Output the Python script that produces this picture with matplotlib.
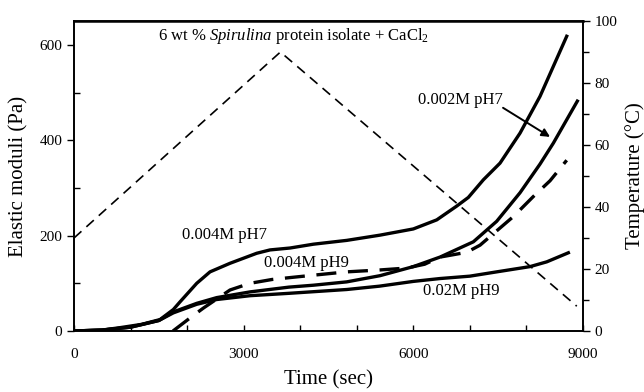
import matplotlib
matplotlib.use('Agg')
import matplotlib.pyplot as plt
from matplotlib.ticker import MultipleLocator

plt.rcParams['font.family'] = ['Liberation Serif', 'DejaVu Serif']
plt.rcParams['mathtext.fontset'] = 'custom'
plt.rcParams['mathtext.rm'] = 'Liberation Serif'
plt.rcParams['mathtext.it'] = 'Liberation Serif:italic'

# 0.004M pH7 (solid, top)
t_a = [0, 500, 813, 1200, 1521, 1756, 1874, 2170, 2405, 2759, 3231, 3466, 3820, 4232, 4822,
       5411, 6000, 6414, 6768, 6972, 7238, 7533, 7887, 8240, 8476, 8712]
g_a = [0, 2, 7, 14, 24, 45, 61, 100, 124, 142, 163, 170, 174, 182, 190,
       201, 214, 233, 262, 280, 317, 352, 415, 492, 555, 618]
# 0.002M pH7 (solid)
t_b = [0, 500, 1000, 1500, 1756, 2170, 2523, 3112, 3800, 4232, 4822, 5411, 6000, 6472,
       7061, 7474, 7887, 8240, 8476, 8712, 8900]
g_b = [0, 2, 8, 22, 40, 58, 70, 82, 92, 96, 103, 116, 135, 155,
       187, 230, 290, 350, 394, 443, 482]
# 0.02M pH9 (solid, bottom)
t_d = [0, 500, 1000, 1500, 1756, 2170, 2523, 3112, 3800, 4822, 5400, 6000, 6472, 7000,
       7474, 8063, 8359, 8741]
g_d = [0, 2, 8, 22, 38, 56, 66, 74, 79, 87, 94, 104, 110, 115,
       124, 135, 145, 164]
# 0.004M pH9 (dashed)
t_e = [1750, 2081, 2287, 2759, 3112, 3500, 3820, 4232, 4822, 5411, 5883, 6200, 6472, 6944,
       7180, 7474, 7769, 8122, 8417, 8712]
g_e = [0, 30, 48, 86, 100, 108, 112, 117, 124, 128, 132, 140, 155, 165,
       180, 210, 240, 282, 315, 358]
# temperature program
t_temp = [0, 3650, 8890]
c_temp = [30, 90, 8]

fig = plt.figure(figsize=(6.44, 3.92), dpi=100)
ax = fig.add_axes([74/644, 61/392, 509/644, 310/392])
ax2 = ax.twinx()

ax.plot(t_a, g_a, color='k', lw=2.4)
ax.plot(t_b, g_b, color='k', lw=2.4)
ax.plot(t_d, g_d, color='k', lw=2.4)
ax.plot(t_e, g_e, color='k', lw=2.4, dashes=(6, 3.5))
ax2.plot(t_temp, c_temp, color='k', lw=1.2, dashes=(6, 4))

ax.set_xlim(0, 9000)
ax.set_ylim(0, 650)
ax2.set_ylim(0, 100)

ax.xaxis.set_major_locator(MultipleLocator(3000))
ax.xaxis.set_minor_locator(MultipleLocator(1000))
ax.yaxis.set_major_locator(MultipleLocator(200))
ax.yaxis.set_minor_locator(MultipleLocator(100))
ax2.yaxis.set_major_locator(MultipleLocator(20))
ax2.yaxis.set_minor_locator(MultipleLocator(10))

ax.tick_params(axis='x', which='both', direction='in', length=4, width=1, labelsize=11, pad=12)
ax.tick_params(axis='y', which='major', direction='out', length=5, width=1, labelsize=11)
ax.tick_params(axis='y', which='minor', direction='in', length=4, width=1)
ax2.tick_params(axis='y', which='both', direction='out', length=5, width=1, labelsize=11)
ax2.tick_params(axis='y', which='minor', length=4)

for a in (ax, ax2):
    for s in a.spines.values():
        s.set_linewidth(1.2)
ax2.spines['top'].set_linewidth(1.8)

ax.set_xlabel('Time (sec)', fontsize=15, labelpad=7)
ax.set_ylabel('Elastic moduli (Pa)', fontsize=15, labelpad=8)
ax2.set_ylabel('Temperature (\u00b0C)', fontsize=15, labelpad=5)

ax.text(3882, 619, '6 wt % $\\mathit{Spirulina}$ protein isolate + CaCl$_2$',
        fontsize=12, ha='center', va='center')
ax.text(2653, 201, '0.004M pH7', fontsize=12, ha='center', va='center')
ax.text(4114, 142, '0.004M pH9', fontsize=12, ha='center', va='center')
ax.text(6856, 84, '0.02M pH9', fontsize=12, ha='center', va='center')
ax.text(6826, 485, '0.002M pH7', fontsize=12, ha='center', va='center')
ax.annotate('', xy=(8417, 407), xytext=(7586, 468),
            arrowprops=dict(arrowstyle='-|>', lw=1.4, color='k', mutation_scale=12,
                            shrinkA=0, shrinkB=0))

fig.savefig('out.png', dpi=100)
